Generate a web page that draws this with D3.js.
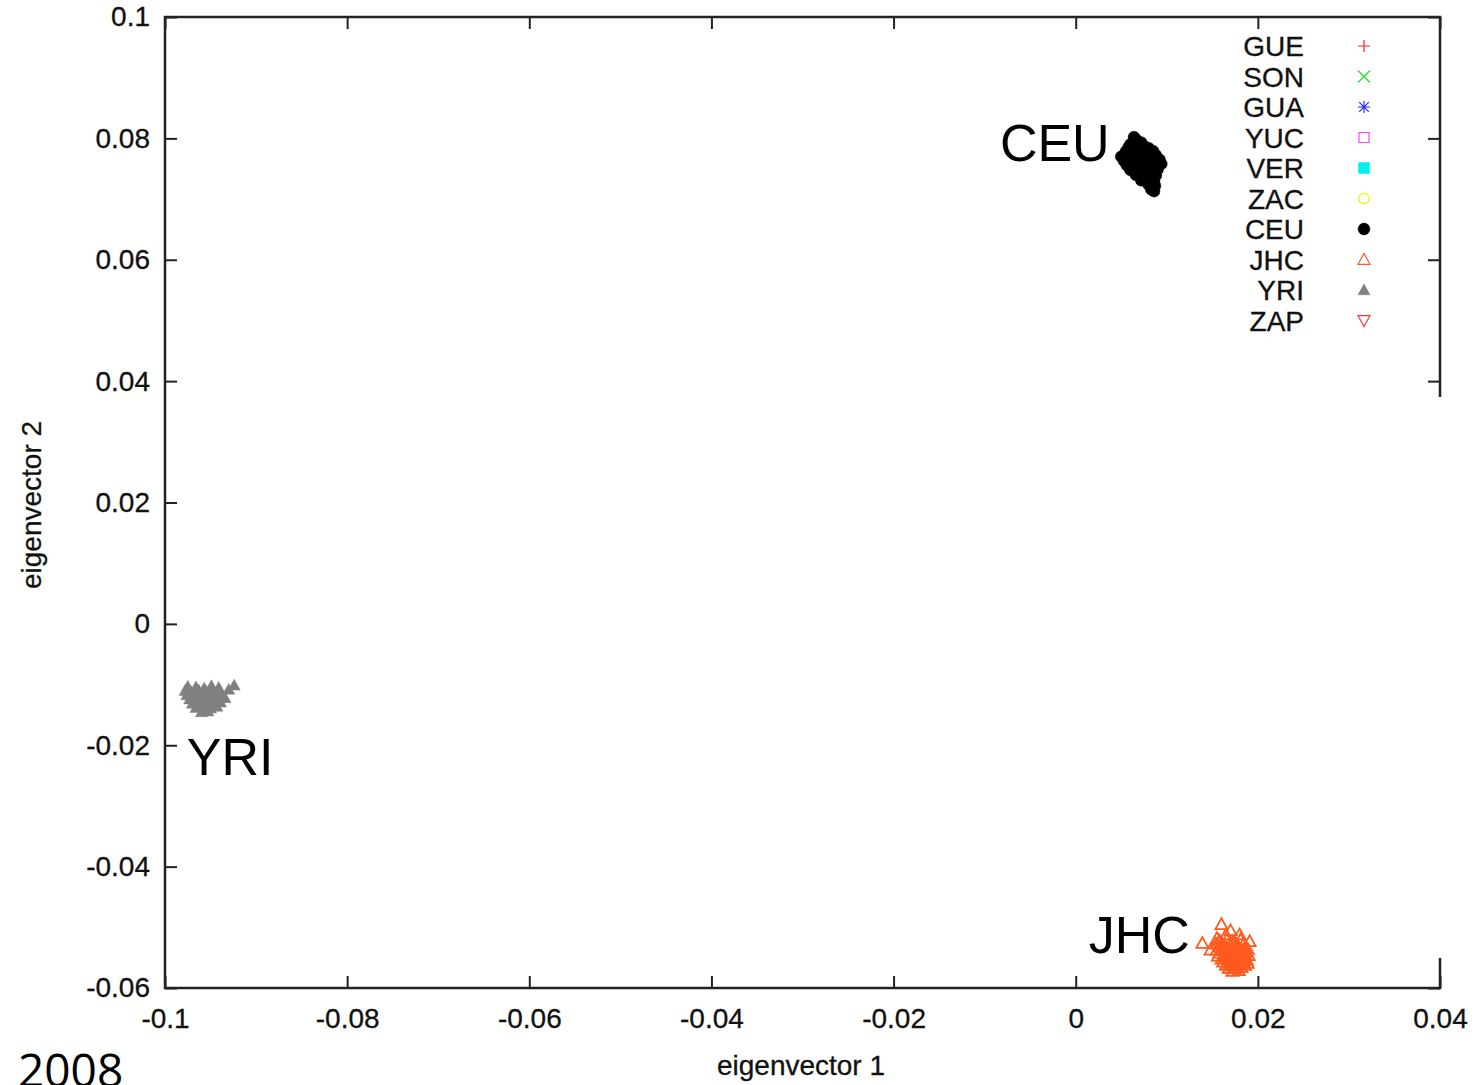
<!DOCTYPE html>
<html>
<head>
<meta charset="utf-8">
<script src="https://cdn.jsdelivr.net/npm/d3@7"></script>
<style>
    body { margin: 0; background: #fff; }
    svg { display: block; font-family: "Liberation Sans", Arial, sans-serif; }
</style>
</head>
<body>
<svg id="chart"></svg>
<script>
// axis ticks
const xTicks = [-0.1, -0.08, -0.06, -0.04, -0.02, 0, 0.02, 0.04];
const xTickLabels = ["-0.1", "-0.08", "-0.06", "-0.04", "-0.02", "0", "0.02", "0.04"];
const yTicks = [-0.06, -0.04, -0.02, 0, 0.02, 0.04, 0.06, 0.08, 0.1];
const yTickLabels = ["-0.06", "-0.04", "-0.02", "0", "0.02", "0.04", "0.06", "0.08", "0.1"];

// legend entries (only CEU, JHC and YRI have points in this plot)
const populations = ["GUE", "SON", "GUA", "YUC", "VER", "ZAC", "CEU", "JHC", "YRI", "ZAP"];

// eigenvector 1 / eigenvector 2 per sample
const ceuPoints = [
    [0.0064, 0.0802], [0.0067, 0.0797], [0.0072, 0.0793], [0.0060, 0.0790],
    [0.0058, 0.0785], [0.0066, 0.0786], [0.0075, 0.0787], [0.0080, 0.0784],
    [0.0055, 0.0778], [0.0062, 0.0780], [0.0070, 0.0779], [0.0078, 0.0777], [0.0085, 0.0779],
    [0.0050, 0.0770], [0.0057, 0.0772], [0.0064, 0.0771], [0.0072, 0.0773], [0.0080, 0.0770], [0.0088, 0.0772],
    [0.0053, 0.0763], [0.0060, 0.0765], [0.0068, 0.0762], [0.0076, 0.0764], [0.0084, 0.0762], [0.0092, 0.0765],
    [0.0056, 0.0756], [0.0063, 0.0754], [0.0071, 0.0757], [0.0079, 0.0753], [0.0087, 0.0756], [0.0094, 0.0758],
    [0.0060, 0.0748], [0.0068, 0.0746], [0.0075, 0.0749], [0.0083, 0.0747], [0.0090, 0.0749],
    [0.0066, 0.0740], [0.0074, 0.0738], [0.0081, 0.0741], [0.0088, 0.0739],
    [0.0072, 0.0731], [0.0079, 0.0733], [0.0086, 0.0730],
    [0.0080, 0.0724], [0.0087, 0.0722],
    [0.0083, 0.0716], [0.0086, 0.0713]
];

const yriPoints = [
    [-0.0975, -0.0103], [-0.0966, -0.0104], [-0.0957, -0.0106], [-0.0949, -0.0102], [-0.0941, -0.0105], [-0.0924, -0.0101],
    [-0.0978, -0.0110], [-0.0971, -0.0112], [-0.0963, -0.0109], [-0.0955, -0.0111], [-0.0947, -0.0110], [-0.0939, -0.0112], [-0.0930, -0.0108],
    [-0.0976, -0.0117], [-0.0968, -0.0118], [-0.0960, -0.0116], [-0.0952, -0.0118], [-0.0944, -0.0117], [-0.0936, -0.0119],
    [-0.0973, -0.0124], [-0.0965, -0.0125], [-0.0957, -0.0123], [-0.0949, -0.0125], [-0.0941, -0.0124], [-0.0934, -0.0122],
    [-0.0970, -0.0131], [-0.0962, -0.0132], [-0.0954, -0.0130], [-0.0946, -0.0131], [-0.0939, -0.0129],
    [-0.0966, -0.0138], [-0.0958, -0.0137], [-0.0950, -0.0139], [-0.0943, -0.0136],
    [-0.0960, -0.0145], [-0.0953, -0.0144]
];

const jhcPoints = [
    [0.0160, -0.0495], [0.0139, -0.0526], [0.0148, -0.0537], [0.0170, -0.0505],
    [0.0180, -0.0512], [0.0191, -0.0523], [0.0155, -0.0518], [0.0165, -0.0512],
    [0.0158, -0.0522], [0.0166, -0.0521], [0.0173, -0.0523], [0.0181, -0.0520],
    [0.0154, -0.0527], [0.0161, -0.0528], [0.0169, -0.0526], [0.0176, -0.0527], [0.0184, -0.0529],
    [0.0157, -0.0532], [0.0164, -0.0533], [0.0171, -0.0531], [0.0178, -0.0532], [0.0186, -0.0534],
    [0.0155, -0.0537], [0.0162, -0.0538], [0.0168, -0.0536], [0.0175, -0.0537], [0.0182, -0.0539], [0.0189, -0.0536],
    [0.0158, -0.0542], [0.0165, -0.0543], [0.0172, -0.0541], [0.0179, -0.0542], [0.0186, -0.0544],
    [0.0156, -0.0547], [0.0163, -0.0548], [0.0170, -0.0546], [0.0177, -0.0547], [0.0184, -0.0549], [0.0190, -0.0546],
    [0.0160, -0.0552], [0.0167, -0.0553], [0.0174, -0.0551], [0.0181, -0.0552], [0.0188, -0.0554],
    [0.0162, -0.0557], [0.0169, -0.0558], [0.0176, -0.0556], [0.0183, -0.0557], [0.0189, -0.0559],
    [0.0165, -0.0562], [0.0172, -0.0563], [0.0179, -0.0561], [0.0186, -0.0562],
    [0.0168, -0.0567], [0.0175, -0.0568], [0.0182, -0.0566],
    [0.0172, -0.0572], [0.0179, -0.0571],
    [0.0170, -0.0545], [0.0176, -0.0550], [0.0173, -0.0540], [0.0180, -0.0555],
    [0.0167, -0.0535], [0.0178, -0.0530], [0.0174, -0.0560], [0.0183, -0.0545],
    [0.0168, -0.0550], [0.0171, -0.0556], [0.0177, -0.0543], [0.0181, -0.0548],
    [0.0185, -0.0553], [0.0175, -0.0564], [0.0179, -0.0537], [0.0172, -0.0534],
    [0.0164, -0.0545], [0.0187, -0.0540], [0.0169, -0.0561], [0.0182, -0.0560]
];

const width = 1479;
const height = 1085;

const svg = d3.select("#chart")
    .attr("width", width)
    .attr("height", height);

const x = d3.scaleLinear().domain([-0.1, 0.04]).range([165, 1440]);
const y = d3.scaleLinear().domain([-0.06, 0.1]).range([988, 17]);

const frameColor = "#222";
const textColor = "#111";

const colors = {
    GUE: "#ff2020", SON: "#22dd22", GUA: "#2a2aff", YUC: "#ff44ff", VER: "#00f0f0",
    ZAC: "#f4f000", CEU: "#000000", JHC: "#ff5a1e", YRI: "#808080", ZAP: "#ff3030"
};

// symbol path for each population, centred on 0,0
const s = 6;
const tri = `M0,${-s}L${s},${s * 0.8}L${-s},${s * 0.8}Z`;
const shapes = {
    GUE: { d: `M${-s},0H${s}M0,${-s}V${s}`, fill: false },
    SON: { d: `M${-s},${-s}L${s},${s}M${-s},${s}L${s},${-s}`, fill: false },
    GUA: { d: `M${-s},0H${s}M0,${-s}V${s}M${-s * 0.8},${-s * 0.8}L${s * 0.8},${s * 0.8}M${-s * 0.8},${s * 0.8}L${s * 0.8},${-s * 0.8}`, fill: false },
    YUC: { d: `M${-5},${-5}H5V5H-5Z`, fill: false },
    VER: { d: `M${-5.5},${-5.5}H5.5V5.5H-5.5Z`, fill: true },
    ZAC: { d: d3.symbol(d3.symbolCircle, 85)(), fill: false },
    CEU: { d: d3.symbol(d3.symbolCircle, 110)(), fill: true },
    JHC: { d: tri, fill: false },
    YRI: { d: tri, fill: true },
    ZAP: { d: `M0,${s}L${s},${-s * 0.8}L${-s},${-s * 0.8}Z`, fill: false }
};

const styleTicks = g => {
    g.select(".domain").remove();
    g.selectAll(".tick line").attr("stroke", frameColor).attr("stroke-width", 2);
    g.selectAll(".tick text")
        .style("font-size", "28px")
        .style("font-family", "'Liberation Sans', Arial, sans-serif")
        .attr("fill", textColor)
        .attr("stroke", textColor)
        .attr("stroke-width", 0.3);
};

// bottom + left with labels, top + right mirrored
svg.append("g")
    .attr("transform", `translate(0,${y.range()[0]})`)
    .call(d3.axisBottom(x).tickValues(xTicks).tickFormat((d, i) => xTickLabels[i]).tickSize(-12).tickPadding(20))
    .call(styleTicks);

svg.append("g")
    .attr("transform", `translate(${x.range()[0]},0)`)
    .call(d3.axisLeft(y).tickValues(yTicks).tickFormat((d, i) => yTickLabels[i]).tickSize(-12).tickPadding(15))
    .call(styleTicks);

svg.append("g")
    .attr("transform", `translate(0,${y.range()[1]})`)
    .call(d3.axisTop(x).tickValues(xTicks).tickFormat("").tickSize(-12))
    .call(styleTicks);

svg.append("g")
    .attr("transform", `translate(${x.range()[1]},0)`)
    .call(d3.axisRight(y).tickValues(yTicks).tickFormat("").tickSize(-12))
    .call(styleTicks);

svg.append("rect")
    .attr("x", x.range()[0])
    .attr("y", y.range()[1])
    .attr("width", x.range()[1] - x.range()[0])
    .attr("height", y.range()[0] - y.range()[1])
    .attr("fill", "none")
    .attr("stroke", frameColor)
    .attr("stroke-width", 2.5);

// the right edge of the source image is blanked out here
svg.append("rect")
    .attr("x", x.range()[1] - 16)
    .attr("y", 397)
    .attr("width", 40)
    .attr("height", 561)
    .attr("fill", "#fff");

const drawPoints = (pts, pop) => {
    const sh = shapes[pop];
    svg.append("g").selectAll("path")
        .data(pts)
        .enter()
        .append("path")
        .attr("d", sh.d)
        .attr("transform", d => `translate(${x(d[0])},${y(d[1])})`)
        .attr("fill", sh.fill ? colors[pop] : "none")
        .attr("stroke", colors[pop])
        .attr("stroke-width", sh.fill ? 0.5 : 1.8);
};

drawPoints(yriPoints, "YRI");
drawPoints(ceuPoints, "CEU");
drawPoints(jhcPoints, "JHC");

// legend
const legend = svg.append("g");
populations.forEach((pop, i) => {
    const ly = 46 + i * 30.5;
    legend.append("text")
        .attr("x", 1304)
        .attr("y", ly)
        .attr("dy", "0.36em")
        .attr("text-anchor", "end")
        .style("font-size", "28px")
        .attr("fill", textColor)
        .attr("stroke", textColor)
        .attr("stroke-width", 0.3)
        .text(pop);
    const sh = shapes[pop];
    legend.append("path")
        .attr("d", sh.d)
        .attr("transform", `translate(1364,${ly})`)
        .attr("fill", sh.fill ? colors[pop] : "none")
        .attr("stroke", colors[pop])
        .attr("stroke-width", sh.fill ? 0.5 : 1.2);
});

// cluster labels, placed in data coordinates
const clusterLabels = [
    { text: "CEU", at: [0.00373, 0.0762], anchor: "end" },
    { text: "YRI", at: [-0.0976, -0.02486], anchor: "start" },
    { text: "JHC", at: [0.01252, -0.05416], anchor: "end" }
];
svg.selectAll(".cluster-label")
    .data(clusterLabels)
    .enter()
    .append("text")
    .attr("class", "cluster-label")
    .attr("x", d => x(d.at[0]))
    .attr("y", d => y(d.at[1]))
    .attr("text-anchor", d => d.anchor)
    .style("font-size", "52px")
    .attr("fill", "#000")
    .text(d => d.text);

// axis titles
svg.append("text")
    .attr("x", 801)
    .attr("y", 1075)
    .attr("text-anchor", "middle")
    .style("font-size", "28px")
    .attr("fill", textColor)
    .attr("stroke", textColor)
    .attr("stroke-width", 0.3)
    .text("eigenvector 1");

svg.append("text")
    .attr("transform", "translate(41,505) rotate(-90)")
    .attr("text-anchor", "middle")
    .style("font-size", "28px")
    .attr("fill", textColor)
    .attr("stroke", textColor)
    .attr("stroke-width", 0.3)
    .text("eigenvector 2");

// year caption, cut by the bottom edge as in the source
svg.append("text")
    .attr("x", 18)
    .attr("y", 1087)
    .style("font-family", "'Open Sans', sans-serif")
    .style("font-size", "46px")
    .attr("fill", "#000")
    .text("2008");
</script>
</body>
</html>
